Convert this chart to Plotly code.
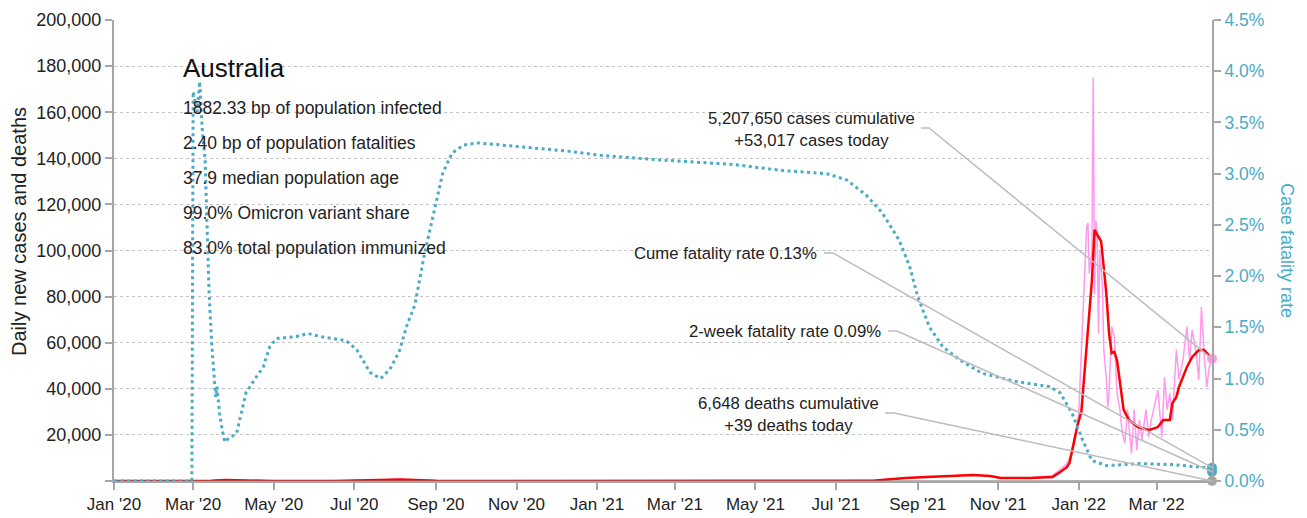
import plotly.graph_objects as go

# ---------------- data ----------------
cfr_dates = ['2020-01-01','2020-02-29','2020-03-01','2020-03-04','2020-03-06','2020-03-08','2020-03-10',
             '2020-03-11','2020-03-13','2020-03-15','2020-03-16','2020-03-17','2020-03-18','2020-03-19',
             '2020-03-21','2020-03-23','2020-03-25','2020-03-28','2020-03-31','2020-04-03','2020-04-10',
             '2020-04-18','2020-04-23','2020-04-28','2020-05-03','2020-05-18','2020-05-27','2020-06-05',
             '2020-06-15','2020-06-25','2020-07-03','2020-07-13','2020-07-21','2020-07-28','2020-08-04',
             '2020-08-10','2020-08-16','2020-08-23','2020-08-30','2020-09-06','2020-09-13','2020-09-22',
             '2020-10-03','2020-10-20','2020-11-15','2020-12-10','2021-01-03','2021-02-23','2021-04-14',
             '2021-05-22','2021-06-24','2021-07-09','2021-07-24','2021-08-05','2021-08-18','2021-08-26',
             '2021-09-01','2021-09-10','2021-09-20','2021-10-03','2021-10-20','2021-11-15','2021-12-10',
             '2021-12-18','2021-12-27','2022-01-04','2022-01-11','2022-01-22','2022-02-16','2022-03-13',
             '2022-04-08','2022-04-12']
cfr_values = [0, 0, 3.8, 3.6, 3.9, 3.4, 3.15, 2.7, 1.85, 1.35, 1.15, 1.05, 0.82, 0.92, 0.66, 0.5, 0.38,
              0.42, 0.44, 0.47, 0.86, 1.02, 1.11, 1.31, 1.39, 1.41, 1.44, 1.41, 1.39, 1.37, 1.28, 1.06,
              1.00, 1.09, 1.26, 1.52, 1.72, 2.2, 2.6, 3.0, 3.2, 3.28, 3.30, 3.28, 3.25, 3.22, 3.18, 3.13,
              3.09, 3.03, 3.00, 2.94, 2.79, 2.62, 2.35, 2.09, 1.80, 1.50, 1.31, 1.18, 1.05, 0.97, 0.92,
              0.86, 0.66, 0.40, 0.20, 0.15, 0.17, 0.16, 0.13, 0.13]

avg_dates = ['2020-01-01','2020-03-01','2020-03-15','2020-03-25','2020-04-01','2020-04-15','2020-05-01',
             '2020-06-15','2020-07-01','2020-07-20','2020-08-05','2020-08-15','2020-09-01','2020-09-20',
             '2020-10-15','2021-06-20','2021-07-10','2021-07-31','2021-08-23','2021-09-08','2021-09-25',
             '2021-10-13','2021-10-26','2021-11-03','2021-11-26','2021-12-12','2021-12-17','2021-12-23',
             '2021-12-25','2021-12-27','2021-12-31','2022-01-03','2022-01-05','2022-01-08','2022-01-11',
             '2022-01-13','2022-01-17','2022-01-18','2022-01-22','2022-01-24','2022-01-26','2022-01-28',
             '2022-01-30','2022-02-02','2022-02-04','2022-02-08','2022-02-15','2022-02-23','2022-03-02',
             '2022-03-06','2022-03-11','2022-03-13','2022-03-16','2022-03-18','2022-03-24','2022-03-28',
             '2022-04-02','2022-04-06','2022-04-09','2022-04-12']
avg_cases = [0, 5, 150, 400, 350, 60, 15, 20, 100, 400, 600, 350, 120, 30, 15, 15, 100, 250, 1300, 1700,
             2000, 2600, 2200, 1300, 1300, 1700, 3500, 6000, 7800, 13000, 24000, 30000, 44000, 67000,
             87000, 109000, 105000, 104000, 81000, 64000, 55500, 56000, 52500, 39500, 31000, 26500,
             23400, 22000, 23400, 26500, 26500, 33800, 36500, 40800, 49500, 53800, 56800, 56800, 55000,
             52000]

daily_dates = ['2020-01-01','2020-03-01','2020-03-15','2020-03-22','2020-03-28','2020-04-05','2020-04-15',
               '2020-05-01','2020-06-15','2020-07-05','2020-07-25','2020-08-05','2020-08-15','2020-09-01',
               '2020-09-20','2020-10-15','2021-06-20','2021-07-10','2021-07-31','2021-08-23','2021-09-08',
               '2021-09-25','2021-10-13','2021-10-26','2021-11-03','2021-11-26','2021-12-12','2021-12-17',
               '2021-12-23','2021-12-27','2021-12-29','2022-01-01','2022-01-04','2022-01-05','2022-01-07',
               '2022-01-08','2022-01-09','2022-01-11','2022-01-12','2022-01-13','2022-01-14','2022-01-15',
               '2022-01-16','2022-01-17','2022-01-19','2022-01-20','2022-01-22','2022-01-23','2022-01-24',
               '2022-01-26','2022-01-28','2022-01-30','2022-02-01','2022-02-03','2022-02-05','2022-02-07',
               '2022-02-10','2022-02-12','2022-02-14','2022-02-16','2022-02-18','2022-02-21','2022-02-23',
               '2022-02-25','2022-03-02','2022-03-05','2022-03-07','2022-03-09','2022-03-11','2022-03-13',
               '2022-03-16','2022-03-18','2022-03-21','2022-03-24','2022-03-26','2022-03-28','2022-03-31',
               '2022-04-02','2022-04-04','2022-04-06','2022-04-08','2022-04-10','2022-04-12']
daily_cases = [0, 5, 200, 500, 460, 200, 40, 20, 25, 150, 550, 720, 400, 140, 25, 15, 20, 110, 300, 1400,
               1900, 2100, 2800, 2000, 1200, 1500, 2300, 4500, 7500, 12000, 17000, 29000, 73000, 81000,
               110000, 112000, 90000, 100000, 175000, 81000, 113000, 108000, 64000, 100000, 84000, 57000,
               44000, 32000, 38000, 67000, 62500, 38000, 32000, 21000, 16500, 31000, 12000, 31000, 13400,
               26500, 17800, 31000, 19000, 26500, 39500, 19000, 45000, 31000, 38000, 26500, 57000, 44000,
               52500, 67000, 52500, 65500, 55500, 44000, 75500, 55500, 40800, 49500, 53017]

death_dates = ['2020-01-01','2020-08-10','2020-10-01','2021-09-01','2021-10-10','2021-12-01','2022-01-25',
               '2022-03-01','2022-04-12']
daily_deaths = [0, 20, 2, 10, 14, 3, 80, 30, 39]

country = "Australia"
info_lines = ["1882.33 bp of population infected",
              "2.40 bp of population fatalities",
              "37.9 median population age",
              "99.0% Omicron variant share",
              "83.0% total population immunized"]
cases_cumulative = 5207650
cases_today = 53017
deaths_cumulative = 6648
deaths_today = 39
cume_cfr = 0.13
two_week_cfr = 0.09

left_tickvals = [0, 20000, 40000, 60000, 80000, 100000, 120000, 140000, 160000, 180000, 200000]
left_ticktext = ["", "20,000", "40,000", "60,000", "80,000", "100,000", "120,000", "140,000",
                 "160,000", "180,000", "200,000"]
left_title = "Daily new cases and deaths"
right_title = "Case fatality rate"

# ---------------- style ----------------
TEAL = "#4aabc7"
RED = "#ff0000"
PINK = "#ff99ee"
GREY = "#a6a6a6"
LEAD = "#bdbdbd"
SANS = "Liberation Sans, Arial, sans-serif"

W, H = 1307, 518
L, R, T, B = 114, 1212, 20, 481
YMAX, Y2MAX = 200000, 4.5
X_END = daily_dates[-1]


def pxx(x):
    return (x - L) / (R - L)


def pxy(y):
    return (B - y) / (B - T)


fig = go.Figure()
fig.add_trace(go.Scatter(x=daily_dates, y=daily_cases, mode="lines",
                         line=dict(color=PINK, width=1.5), name="Daily cases"))
fig.add_trace(go.Scatter(x=avg_dates, y=avg_cases, mode="lines",
                         line=dict(color=RED, width=2.5), name="7-day average"))
fig.add_trace(go.Scatter(x=death_dates, y=daily_deaths, mode="lines",
                         line=dict(color="#808080", width=1), name="Daily deaths"))
fig.add_trace(go.Scatter(x=cfr_dates, y=cfr_values, mode="lines", yaxis="y2",
                         line=dict(color=TEAL, width=3, dash="3px,3.5px"), name="Case fatality rate"))

# end markers
fig.add_trace(go.Scatter(x=[X_END], y=[0], mode="markers", cliponaxis=False,
                         marker=dict(color=GREY, size=10)))
fig.add_trace(go.Scatter(x=[X_END], y=[two_week_cfr], yaxis="y2", mode="markers", cliponaxis=False,
                         marker=dict(color=TEAL, size=10)))
fig.add_trace(go.Scatter(x=[X_END], y=[cume_cfr], yaxis="y2", mode="markers", cliponaxis=False,
                         marker=dict(color=TEAL, size=10)))
fig.add_trace(go.Scatter(x=[X_END], y=[cases_today], mode="markers", cliponaxis=False,
                         marker=dict(color=PINK, size=10)))

annotations = []
annotations.append(dict(x=pxx(181), y=pxy(68), xref="paper", yref="paper", text=country,
                        showarrow=False, xanchor="left", yanchor="middle",
                        font=dict(family=SANS, size=26, color="#111")))
for i, line in enumerate(info_lines):
    annotations.append(dict(x=pxx(181), y=pxy(108 + 35 * i), xref="paper", yref="paper", text=line,
                            showarrow=False, xanchor="left", yanchor="middle",
                            font=dict(family=SANS, size=17.5, color="#222")))

lead_font = dict(family=SANS, size=16.7, color="#222")
annotations.append(dict(x=pxx(811), y=pxy(129), xref="paper", yref="paper",
                        text=f"{cases_cumulative:,} cases cumulative<br>+{cases_today:,} cases today",
                        showarrow=False, xanchor="center", yanchor="middle", align="center",
                        font=lead_font))
annotations.append(dict(x=pxx(819), y=pxy(253), xref="paper", yref="paper",
                        text=f"Cume fatality rate {cume_cfr:.2f}%", showarrow=False,
                        xanchor="right", yanchor="middle", font=lead_font))
annotations.append(dict(x=pxx(883), y=pxy(331), xref="paper", yref="paper",
                        text=f"2-week fatality rate {two_week_cfr:.2f}%", showarrow=False,
                        xanchor="right", yanchor="middle", font=lead_font))
annotations.append(dict(x=pxx(788), y=pxy(414), xref="paper", yref="paper",
                        text=f"{deaths_cumulative:,} deaths cumulative<br>+{deaths_today:,} deaths today",
                        showarrow=False, xanchor="center", yanchor="middle", align="center",
                        font=lead_font))
# axis titles placed as rotated annotations
annotations.append(dict(x=pxx(19), y=pxy(232), xref="paper", yref="paper", text=left_title,
                        textangle=-90, showarrow=False, xanchor="center", yanchor="middle",
                        font=dict(family=SANS, size=20, color="#222")))
annotations.append(dict(x=pxx(1287), y=pxy(250), xref="paper", yref="paper", text=right_title,
                        textangle=90, showarrow=False, xanchor="center", yanchor="middle",
                        font=dict(family=SANS, size=18, color=TEAL)))

leaders = [((921, 128), (929, 128), cases_today / YMAX),
           ((824, 253), (833, 253), cume_cfr / Y2MAX),
           ((888, 331), (897, 331), two_week_cfr / Y2MAX),
           ((885, 413), (894, 413), 0 / YMAX)]
shapes = []
for (sx, sy), (ex, ey), endp in leaders:
    path = f"M {pxx(sx)} {pxy(sy)} L {pxx(ex)} {pxy(ey)} L 1 {endp}"
    shapes.append(dict(type="path", xref="paper", yref="paper", path=path,
                       line=dict(color=LEAD, width=1.5), layer="above"))

fig.update_layout(
    width=W, height=H, autosize=False,
    margin=dict(l=L, r=W - R, t=T, b=H - B, pad=0, autoexpand=False),
    paper_bgcolor="white", plot_bgcolor="white",
    showlegend=False,
    annotations=annotations,
    shapes=shapes,
    xaxis=dict(type="date", range=[daily_dates[0], X_END], tick0="2020-01-01", dtick="M2",
               tickformat="%b '%y", ticks="outside", ticklen=7, tickcolor=GREY, tickwidth=1.5,
               showline=True, linecolor=GREY, linewidth=2, showgrid=False, zeroline=False,
               automargin=False, tickfont=dict(family=SANS, size=17, color="#222")),
    yaxis=dict(range=[0, YMAX], tickvals=left_tickvals, ticktext=left_ticktext, ticks="outside",
               ticklen=7, tickcolor=GREY, tickwidth=1.5, showline=True, linecolor=GREY, linewidth=2,
               showgrid=True, gridcolor="#c4c4c4", griddash="dot", gridwidth=1, zeroline=False,
               automargin=False, tickfont=dict(family=SANS, size=18, color="#222")),
    yaxis2=dict(range=[0, Y2MAX], overlaying="y", side="right", dtick=0.5, tick0=0, tickformat=".1f",
                ticksuffix="%", ticks="outside", ticklen=7, tickcolor=GREY, tickwidth=1.5,
                showline=True, linecolor=GREY, linewidth=2, showgrid=False, zeroline=False,
                automargin=False, tickfont=dict(family=SANS, size=17.5, color=TEAL)),
)

fig.write_html("out.html", config={"responsive": False, "displayModeBar": False},
               post_script="document.body.style.margin='0';document.body.style.overflow='hidden';")
